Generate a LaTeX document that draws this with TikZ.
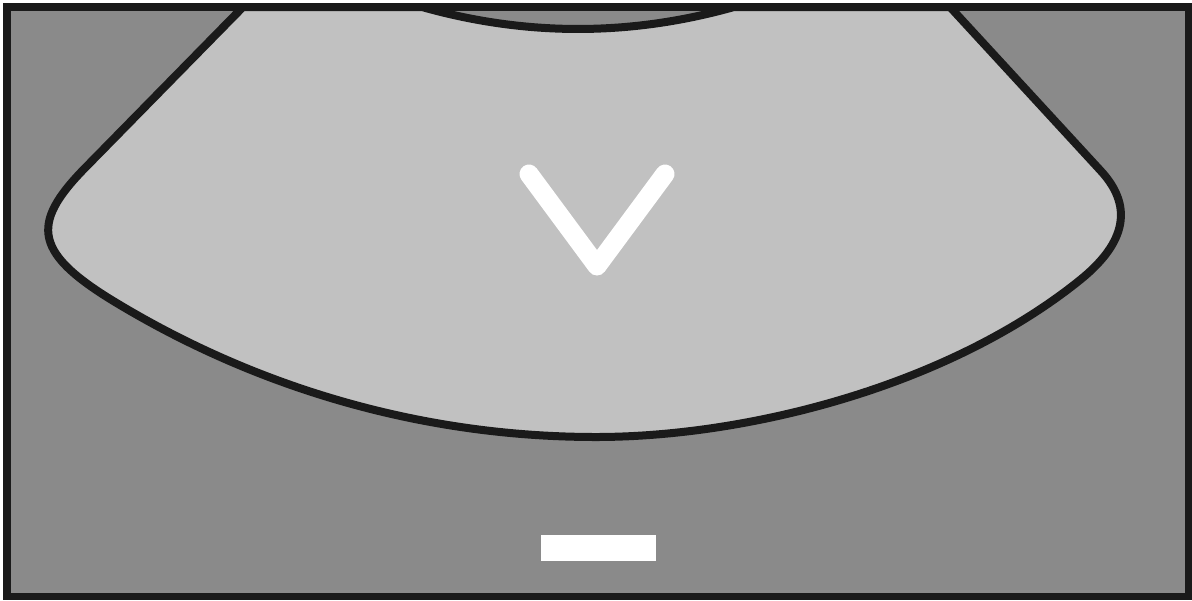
\documentclass[tikz,border=0pt]{standalone}
\definecolor{bggray}{RGB}{138,138,138}
\definecolor{fangray}{RGB}{193,193,193}
\definecolor{ink}{RGB}{26,26,26}
\tikzset{
  outline/.style={draw=ink, line width=4pt, line join=round},
  markstroke/.style={draw=white, line width=9.5pt, line cap=round, line join=round}
}
\begin{document}
\begin{tikzpicture}[x=0.5pt,y=-0.5pt]
\useasboundingbox (0,0) rectangle (1192,600);
\fill[white] (0,0) rectangle (1192,600);
\fill[bggray] (7,7) rectangle (1188.5,596.5);
\begin{scope}
\clip (7,7) rectangle (1188.5,596.5);
\path[fill=fangray, outline]
  (243,7) -- (85,168) .. controls (29,225) and (34,254) .. (120,305)
  .. controls (264,391) and (428,437) .. (596,437)
  .. controls (746,437) and (947,387) .. (1080,280)
  .. controls (1120.6,247.2) and (1137.6,210) .. (1100,170)
  -- (950,7) -- (734,7) .. controls (630,36.3) and (526,36.3) .. (422,7) -- cycle;
\end{scope}
\draw[ink, line width=3.75pt] (7,7) rectangle (1188.5,596.5);
\draw[markstroke] (529,174) -- (597,266) -- (665,174);
\fill[white] (541,535) rectangle (656,561);
\end{tikzpicture}
\end{document}
